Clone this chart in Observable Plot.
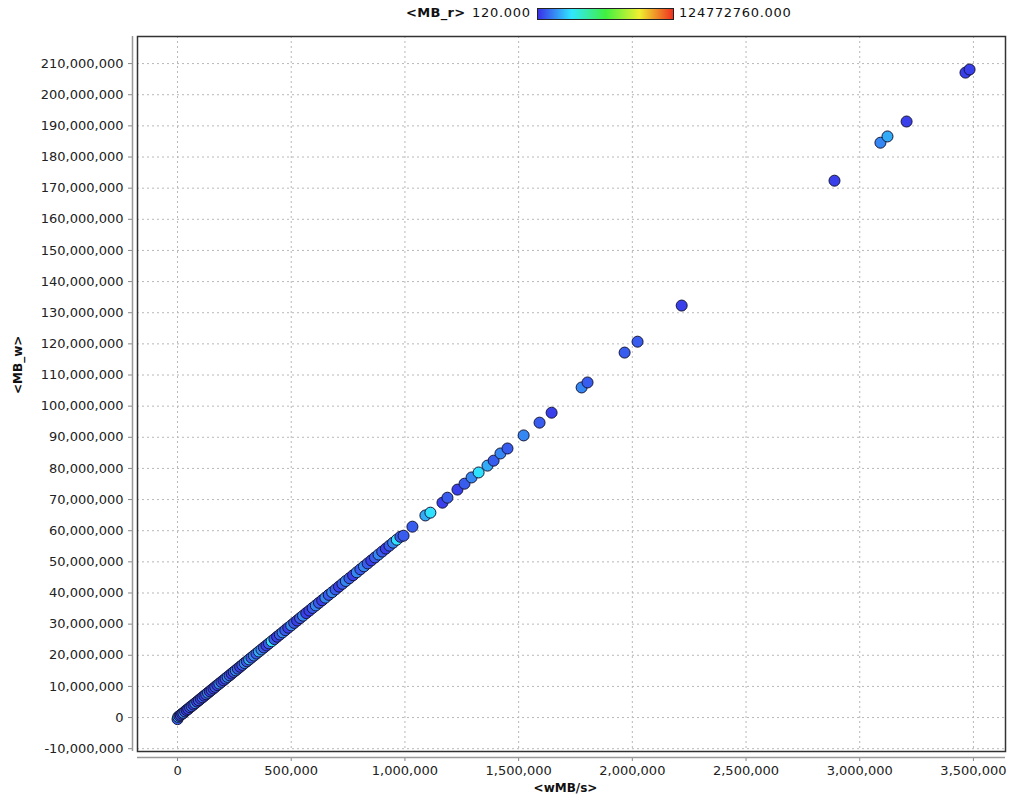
<!DOCTYPE html>
<html>
<head>
<meta charset="utf-8">
<script src="https://cdn.jsdelivr.net/npm/d3@7"></script>
<script src="https://cdn.jsdelivr.net/npm/@observablehq/plot@0.6"></script>
<style>
  body { margin: 0; background: #fff; font-family: "DejaVu Sans", sans-serif; }
  #legend { position: relative; height: 28px; font-size: 13px; letter-spacing: 0.7px; color: #111; }
  #legend span { position: absolute; top: 5px; white-space: nowrap; }
  #legend .bar { position: absolute; left: 537px; top: 8px; width: 135px; height: 10px; border: 1px solid #222; }
  svg { display: block; }
</style>
</head>
<body>
<div id="legend"></div>
<div id="chart"></div>
<script>
// <wMB/s>
const wmbs = [
  0, 3000, 8000, 14000, 20000, 26000, 33000, 40000, 47000, 55000,
  62000, 70000, 78000, 86000, 94000, 102000, 110000, 118000, 126000, 134000,
  142000, 150000, 158000, 166000, 175000, 184000, 193000, 202000, 211000, 220000,
  229000, 238000, 247000, 256000, 265000, 275000, 285000, 295000, 305000, 315000,
  325000, 336000, 347000, 358000, 369000, 380000, 391000, 402000, 414000, 426000,
  438000, 450000, 462000, 474000, 487000, 500000, 513000, 526000, 539000, 552000,
  566000, 580000, 594000, 608000, 622000, 636000, 650000, 665000, 680000, 695000,
  710000, 725000, 740000, 756000, 772000, 788000, 804000, 820000, 836000, 852000,
  868000, 884000, 900000, 916000, 932000, 948000, 964000, 980000,
  994000, 1033000, 1090000, 1112000, 1165000, 1187000, 1231000, 1262000, 1293000, 1324000,
  1363000, 1390000, 1420000, 1451000, 1522000, 1592000, 1645000, 1777000, 1803000, 1966000,
  2023000, 2217000, 2889000, 3091000, 3122000, 3206000, 3465000, 3483000
];
// <MB_w>
const mbw = [
  -500000, 200000, 500000, 850000, 1200000, 1500000, 1950000, 2400000, 2750000, 3300000,
  3650000, 4150000, 4600000, 5100000, 5550000, 6050000, 6500000, 7000000, 7450000, 7950000,
  8400000, 8900000, 9350000, 9850000, 10400000, 10900000, 11450000, 11950000, 12500000, 13050000,
  13550000, 14100000, 14650000, 15150000, 15700000, 16300000, 16900000, 17500000, 18050000, 18650000,
  19250000, 19900000, 20550000, 21200000, 21850000, 22500000, 23150000, 23800000, 24500000, 25200000,
  25950000, 26650000, 27350000, 28050000, 28850000, 29600000, 30400000, 31150000, 31950000, 32700000,
  33550000, 34350000, 35200000, 36000000, 36850000, 37650000, 38500000, 39400000, 40250000, 41150000,
  42050000, 42950000, 43850000, 44750000, 45700000, 46650000, 47600000, 48550000, 49500000, 50450000,
  51400000, 52350000, 53300000, 54250000, 55200000, 56150000, 57100000, 58050000,
  58400000, 61300000, 64900000, 65800000, 69000000, 70600000, 73200000, 75100000, 77100000, 78700000,
  80900000, 82500000, 84800000, 86400000, 90600000, 94700000, 97900000, 106000000, 107600000, 117200000,
  120700000, 132300000, 172400000, 184600000, 186600000, 191400000, 207100000, 208100000
];
// <MB_r>
const mbr = [
  7500000, 30000000, 2500000, 7500000, 2500000, 15000000, 7500000, 2500000, 2500000, 7500000,
  7500000, 2500000, 15000000, 2500000, 7500000, 2500000, 7500000, 2500000, 7500000, 15000000,
  2500000, 7500000, 2500000, 7500000, 2500000, 15000000, 7500000, 2500000, 7500000, 15000000,
  7500000, 2500000, 7500000, 15000000, 7500000, 2500000, 7500000, 15000000, 7500000, 21000000,
  7500000, 15000000, 7500000, 21000000, 15000000, 7500000, 2500000, 7500000, 30000000, 7500000,
  2500000, 7500000, 15000000, 7500000, 2500000, 15000000, 7500000, 2500000, 7500000, 15000000,
  2500000, 2500000, 7500000, 15000000, 7500000, 2500000, 15000000, 7500000, 15000000, 7500000,
  2500000, 7500000, 15000000, 7500000, 2500000, 15000000, 7500000, 15000000, 7500000, 2500000,
  7500000, 15000000, 7500000, 2500000, 7500000, 15000000, 30000000, 7500000,
  7500000, 7500000, 21000000, 30000000, 2500000, 7500000, 2500000, 7500000, 15000000, 30000000,
  21000000, 7500000, 15000000, 7500000, 15000000, 7500000, 2500000, 15000000, 7500000, 7500000,
  7500000, 2500000, 2500000, 15000000, 21000000, 2500000, 2500000, 2500000
];
const colorMin = 120;
const colorMax = 124772760;
const colorStops = ["#3a30e8", "#30e8ff", "#40f040", "#f0f030", "#f03020"];
const xTicks = [0, 500000, 1000000, 1500000, 2000000, 2500000, 3000000, 3500000];
const yTicks = [-10000000, 0, 10000000, 20000000, 30000000, 40000000, 50000000, 60000000,
  70000000, 80000000, 90000000, 100000000, 110000000, 120000000, 130000000, 140000000,
  150000000, 160000000, 170000000, 180000000, 190000000, 200000000, 210000000];
const xDomain = [-176000, 3641000];
const yDomain = [-10900000, 218700000];
const xLabel = "<wMB/s>";
const yLabel = "<MB_w>";
const legendLabel = "<MB_r>";

const data = wmbs.map((x, i) => ({x, y: mbw[i], c: mbr[i]}));
const fmt = d3.formatLocale({decimal: ".", thousands: ",", grouping: [3], currency: ["", ""], minus: "-"}).format(",");
const interp = d3.piecewise(d3.interpolateRgb, colorStops);

// legend
const lg = document.getElementById("legend");
lg.innerHTML = `<span style="left:406px;font-weight:bold;letter-spacing:0.3px"></span>
<span style="left:472px"></span><div class="bar"></div><span style="left:679px"></span>`;
const spans = lg.querySelectorAll("span");
spans[0].textContent = legendLabel;
spans[1].textContent = colorMin.toFixed(3);
spans[2].textContent = colorMax.toFixed(3);
lg.querySelector(".bar").style.background = `linear-gradient(to right, ${colorStops.join(",")})`;

const plot = Plot.plot({
  width: 1012,
  height: 774,
  marginTop: 8,
  marginBottom: 51,
  marginLeft: 137,
  marginRight: 7,
  style: {fontFamily: "DejaVu Sans, sans-serif", fontSize: "13px", color: "#222", background: "#fff"},
  x: {domain: xDomain, label: null},
  y: {domain: yDomain, label: null},
  color: {type: "linear", domain: [colorMin, colorMax], interpolate: () => interp},
  marks: [
    Plot.gridX(xTicks, {stroke: "#b8b8b8", strokeOpacity: 1, strokeDasharray: "2,3"}),
    Plot.gridY(yTicks, {stroke: "#b8b8b8", strokeOpacity: 1, strokeDasharray: "2,3"}),
    Plot.dot(data, {x: "x", y: "y", fill: "c", r: 5.5, stroke: "#15153a", strokeWidth: 1, fillOpacity: 1}),
    Plot.frame({stroke: "#333", strokeWidth: 1.5}),
    Plot.axisY(yTicks, {anchor: "left", dx: -5, tickSize: 4, tickPadding: 5, tickFormat: fmt, stroke: "#888", fill: "#222", style: "letter-spacing:0.7px"}),
    Plot.ruleX([xDomain[0]], {dx: -5, stroke: "#999", strokeWidth: 1.5}),
    Plot.axisX(xTicks, {anchor: "bottom", dy: 6, tickSize: 4, tickPadding: 4, tickFormat: fmt, stroke: "#888", fill: "#222", style: "letter-spacing:0.7px"}),
    Plot.ruleY([yDomain[0]], {dy: 6, stroke: "#999", strokeWidth: 1.5}),
    Plot.text([yLabel], {text: d => d, frameAnchor: "left", dx: -119, rotate: -90, fontWeight: "bold", fontSize: 12, fill: "#111"}),
    Plot.text([xLabel], {text: d => d, frameAnchor: "bottom", dx: -6, dy: 40, fontWeight: "bold", fontSize: 12, fill: "#111"})
  ]
});
document.getElementById("chart").appendChild(plot);
</script>
</body>
</html>
